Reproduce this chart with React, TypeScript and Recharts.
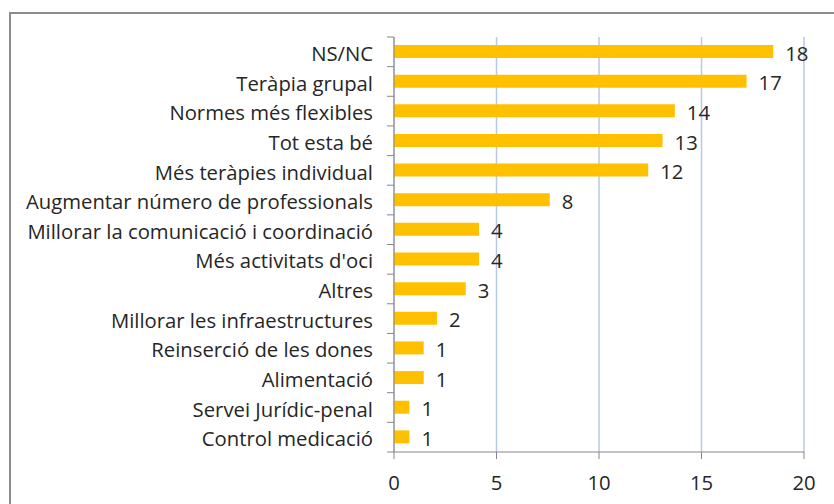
import React from 'react'
import { Bar, BarChart, CartesianGrid, LabelList, XAxis, YAxis } from 'recharts'

const categories = [
    'NS/NC',
    'Teràpia grupal',
    'Normes més flexibles',
    'Tot esta bé',
    'Més teràpies individual',
    'Augmentar número de professionals ',
    'Millorar la comunicació i coordinació',
    "Més activitats d'oci",
    'Altres',
    'Millorar les infraestructures',
    'Reinserció de les dones',
    'Alimentació',
    'Servei Jurídic-penal',
    'Control medicació',
]

// bar lengths as drawn (axis 0–20)
const barValues = [18.5, 17.2, 13.7, 13.1, 12.4, 7.6, 4.15, 4.15, 3.5, 2.1, 1.45, 1.45, 0.75, 0.75]

// numbers printed next to each bar
const counts = [18, 17, 14, 13, 12, 8, 4, 4, 3, 2, 1, 1, 1, 1]

const xTicks = [0, 5, 10, 15, 20]

const data = categories.map((name, i) => ({ name, value: barValues[i], count: counts[i] }))

const FONT = '"Open Sans", sans-serif'
const FS = 20.3
const TEXT = '#262626'
const AXIS = '#868686'
const BAND = 415 / categories.length

const YTick = (props: any) => {
    const { x, y, payload } = props
    const ax = x + 14
    const isLast = payload.index === categories.length - 1
    return (
        <g>
            <line x1={ax} x2={ax + 7} y1={y - BAND / 2} y2={y - BAND / 2} stroke={AXIS} />
            {isLast && <line x1={ax} x2={ax + 7} y1={y + BAND / 2} y2={y + BAND / 2} stroke={AXIS} />}
            <text x={x} y={y} dy="0.45em" textAnchor="end" fill={TEXT} fontSize={FS} fontFamily={FONT}>
                {payload.value}
            </text>
        </g>
    )
}

const CountLabel = (props: any) => {
    const { x, y, width, height, value } = props
    return (
        <text x={x + width + 12} y={y + height / 2} dy="0.45em" fill={TEXT} fontSize={FS} fontFamily={FONT}>
            {value}
        </text>
    )
}

export default function App() {
    return (
        <div style={{ position: 'absolute', top: 0, left: 0, width: 834, height: 504, overflow: 'hidden', background: '#fff' }}>
            <div
                style={{
                    position: 'absolute',
                    left: 9,
                    top: 12,
                    width: 900,
                    height: 600,
                    borderTop: '2px solid #8c8c8c',
                    borderLeft: '2px solid #8c8c8c',
                }}
            />
            <div style={{ position: 'absolute', top: 0, left: 0 }}>
                <BarChart
                    width={834}
                    height={504}
                    data={data}
                    layout="vertical"
                    barSize={13}
                    margin={{ top: 37, right: 30, left: 0, bottom: 0 }}
                >
                    <CartesianGrid horizontal={false} vertical stroke="#b7c9e8" strokeWidth={1.5} />
                    <XAxis
                        type="number"
                        domain={[0, 20]}
                        ticks={xTicks}
                        height={52}
                        axisLine={{ stroke: AXIS }}
                        tickLine={{ stroke: AXIS }}
                        tickSize={7}
                        tickMargin={17}
                        tick={{ fill: TEXT, fontSize: FS, fontFamily: FONT }}
                        interval={0}
                    />
                    <YAxis
                        type="category"
                        dataKey="name"
                        width={394}
                        axisLine={{ stroke: AXIS }}
                        tickLine={false}
                        tickSize={7}
                        tickMargin={14}
                        tick={<YTick />}
                        interval={0}
                    />
                    <Bar dataKey="value" fill="#ffc000" isAnimationActive={false}>
                        <LabelList dataKey="count" content={<CountLabel />} />
                    </Bar>
                </BarChart>
            </div>
        </div>
    )
}
